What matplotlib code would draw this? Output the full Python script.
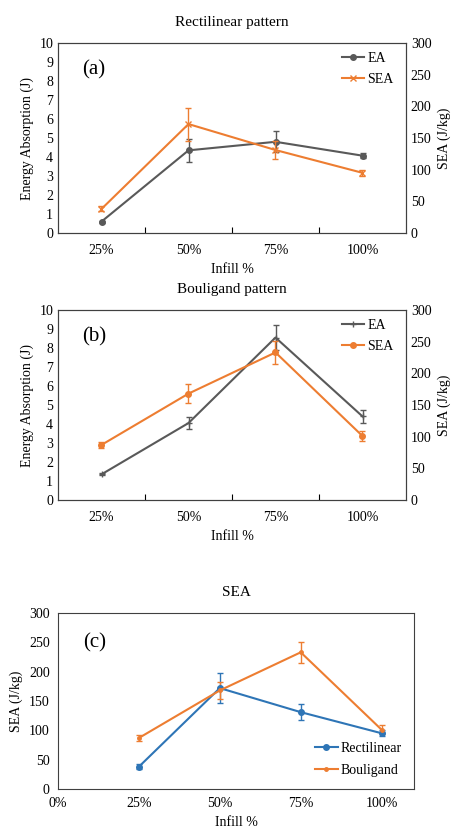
import matplotlib
matplotlib.use("Agg")
import matplotlib.pyplot as plt
from matplotlib.lines import Line2D

plt.rcParams['font.family'] = 'Liberation Serif'
plt.rcParams['font.size'] = 10

infill = ["25%", "50%", "75%", "100%"]
infill_num = [25, 50, 75, 100]

rect_ea = [0.6, 4.35, 4.8, 4.07]
rect_ea_err = [0.05, 0.6, 0.55, 0.12]
rect_sea = [38, 172, 131, 95]
rect_sea_err = [4, 26, 14, 5]

boul_ea = [1.35, 4.05, 8.55, 4.4]
boul_ea_err = [0.05, 0.3, 0.65, 0.35]
boul_sea = [87, 168, 233, 101]
boul_sea_err = [5, 15, 18, 8]

GREY = "#595959"
ORANGE = "#ED7D31"
BLUE = "#2E75B6"

W, H = 474, 838
fig = plt.figure(figsize=(W / 100, H / 100), dpi=100)


def ax_rect(l, t, r, b):
    return [l / W, 1 - b / H, (r - l) / W, (b - t) / H]


def handle(color, marker, ms):
    return Line2D([], [], color=color, marker=marker, ms=ms, lw=1.5)


def ea_panel(rect, title, label, ea, ea_err, sea, sea_err, ea_marker, sea_marker):
    ax = fig.add_axes(rect)
    x = range(len(infill))
    ax.errorbar(x, ea, yerr=ea_err, color=GREY, marker=ea_marker, ms=4, lw=1.5,
                capsize=2, elinewidth=1)
    ax.set_ylim(0, 10)
    ax.set_yticks(range(0, 11))
    ax.set_xlim(-0.5, 3.5)
    ax.set_xticks([0.5, 1.5, 2.5], minor=False)
    ax.set_xticklabels([])
    ax.set_xticks(list(x), minor=True)
    ax.set_xticklabels(infill, minor=True)
    ax.tick_params(axis="x", which="minor", length=0, pad=8)
    ax.tick_params(axis="x", which="major", length=4, direction="in")
    ax.tick_params(axis="y", length=0)
    ax.set_ylabel("Energy Absorption (J)")
    ax.set_xlabel("Infill %")
    ax.set_title(title, fontsize=11, pad=12)
    ax.text(0.07, 0.86, label, transform=ax.transAxes, fontsize=15, va="center")
    ax2 = ax.twinx()
    ax2.errorbar(x, sea, yerr=sea_err, color=ORANGE, marker=sea_marker, ms=4, lw=1.5,
                 capsize=2, elinewidth=1)
    ax2.set_ylim(0, 300)
    ax2.set_yticks(range(0, 301, 50))
    ax2.tick_params(axis="y", length=0)
    ax2.set_ylabel("SEA (J/kg)")
    ax2.legend([handle(GREY, ea_marker, 4), handle(ORANGE, sea_marker, 4)], ["EA", "SEA"],
               loc="upper right", bbox_to_anchor=(1.0, 1.02), frameon=False,
               handlelength=1.6, handletextpad=0.2, labelspacing=0.6)
    for a in (ax, ax2):
        for s in a.spines.values():
            s.set_color("#404040")


ea_panel(ax_rect(58, 43, 406, 233), "Rectilinear pattern", "(a)",
         rect_ea, rect_ea_err, rect_sea, rect_sea_err, "o", "x")
ea_panel(ax_rect(58, 310, 406, 500), "Bouligand pattern", "(b)",
         boul_ea, boul_ea_err, boul_sea, boul_sea_err, "+", "o")

ax = fig.add_axes(ax_rect(58, 613, 414, 789))
ax.errorbar(infill_num, rect_sea, yerr=rect_sea_err, color=BLUE, marker="o", ms=4,
            lw=1.5, capsize=2, elinewidth=1)
ax.errorbar(infill_num, boul_sea, yerr=boul_sea_err, color=ORANGE, marker="o", ms=2.5,
            lw=1.5, capsize=2, elinewidth=1)
ax.set_xlim(0, 110)
ax.set_xticks([0, 25, 50, 75, 100])
ax.set_xticklabels(["0%", "25%", "50%", "75%", "100%"])
ax.set_ylim(0, 300)
ax.set_yticks(range(0, 301, 50))
ax.tick_params(length=0, pad=6)
ax.set_ylabel("SEA (J/kg)")
ax.set_xlabel("Infill %")
ax.set_title("SEA", fontsize=11, pad=12)
ax.text(0.07, 0.83, "(c)", transform=ax.transAxes, fontsize=15, va="center")
ax.legend([handle(BLUE, "o", 4), handle(ORANGE, "o", 2.5)], ["Rectilinear", "Bouligand"],
          loc="lower right", frameon=False, handlelength=1.6, handletextpad=0.2,
          labelspacing=0.6)
for s in ax.spines.values():
    s.set_color("#404040")

fig.savefig("out.png", dpi=100)
